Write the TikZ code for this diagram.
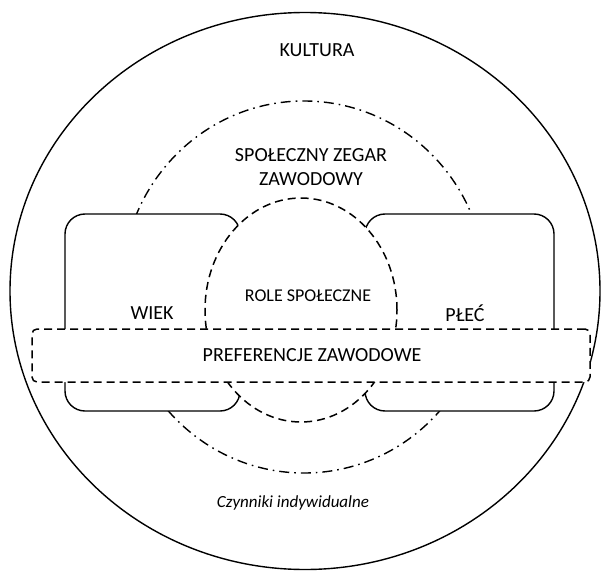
\documentclass[tikz,border=0pt]{standalone}
\usepackage{fontspec}
\setmainfont{Carlito}
\usetikzlibrary{shapes.geometric}
\begin{document}
\begin{tikzpicture}[x=1pt,y=-1pt,
  solidline/.style={draw=black,line width=1.4pt},
  dashdotline/.style={draw=black,line width=1.4pt,dash pattern=on 10pt off 5pt on 1.6pt off 5pt},
  dashline/.style={draw=black,line width=1.5pt,dash pattern=on 8pt off 5pt},
  lbl/.style={font=\fontsize{20}{23.5}\selectfont,align=center,inner sep=0pt},
  slbl/.style={font=\fontsize{18}{22}\selectfont,align=center,inner sep=0pt},
  ilbl/.style={font=\fontsize{17}{20}\selectfont\itshape,inner sep=0pt}]
\useasboundingbox (0,0) rectangle (604,572);
\node[solidline,ellipse,inner sep=0pt,minimum width=590pt,minimum height=557pt] (kultura) at (305,291) {};
\node[dashdotline,ellipse,inner sep=0pt,minimum width=364pt,minimum height=372pt] (zegar) at (304,287) {};
\node[solidline,fill=white,rectangle,rounded corners=20pt,inner sep=0pt,minimum width=175pt,minimum height=197pt] (wiekbox) at (152.5,312.5) {};
\node[solidline,fill=white,rectangle,rounded corners=20pt,inner sep=0pt,minimum width=189pt,minimum height=197pt] (plecbox) at (459.5,312.5) {};
\node[dashline,fill=white,ellipse,inner sep=0pt,minimum width=192pt,minimum height=224pt] (role) at (301,310) {};
\node[dashline,fill=white,rectangle,rounded corners=5pt,inner sep=0pt,minimum width=558pt,minimum height=53pt] (pref) at (311,355.5) {};
\node[lbl] (tkultura) at (317,50) {KULTURA};
\node[lbl] (tzegar) at (311,167) {SPOŁECZNY ZEGAR\\ZAWODOWY};
\node[slbl] (trole) at (308,296) {ROLE SPOŁECZNE};
\node[lbl] (twiek) at (152,313) {WIEK};
\node[lbl] (tplec) at (465,313) {PŁEĆ};
\node[lbl] (tpref) at (312,355) {PREFERENCJE ZAWODOWE};
\node[ilbl] (tczyn) at (293,503) {Czynniki indywidualne};
\end{tikzpicture}
\end{document}
